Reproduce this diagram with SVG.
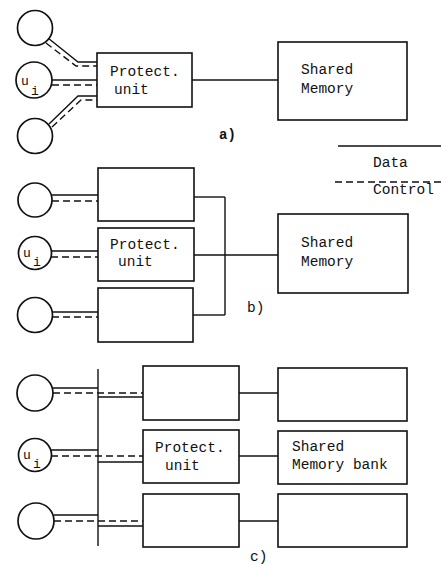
<svg xmlns="http://www.w3.org/2000/svg" width="441" height="565" viewBox="0 0 441 565">
<style>
.bg{fill:#fff}
.n{fill:#fff;stroke:#111;stroke-width:1.6}
.c{fill:#fff;stroke:#111;stroke-width:1.7}
.s{fill:none;stroke:#111;stroke-width:1.4}
.d{fill:none;stroke:#111;stroke-width:1.4;stroke-dasharray:7 4}
.t{font-family:"Liberation Mono",monospace;font-size:14.5px;fill:#111}
.u{font-family:"Liberation Mono",monospace;font-size:13px;fill:#111}
.l{font-family:"Liberation Mono",monospace;font-size:14px;font-weight:bold;fill:#111}
</style>
<rect class="bg" x="0" y="0" width="441" height="565"/>
<g id="connectors">
<polyline class="s" points="48,38 78,62 97,62"/>
<polyline class="d" points="46,43 76,66 97,66"/>
<line class="s" x1="52" y1="80" x2="97" y2="80"/>
<line class="d" x1="52" y1="85" x2="97" y2="85"/>
<polyline class="s" points="49,124 78,96 97,96"/>
<polyline class="d" points="52,127 81,100 97,100"/>
<line class="s" x1="192" y1="80" x2="278" y2="80"/>
<line class="s" x1="338" y1="146" x2="441" y2="146"/>
<line class="d" x1="335" y1="182" x2="441" y2="182"/>
<line class="s" x1="51" y1="195" x2="98" y2="195"/>
<line class="d" x1="52" y1="201" x2="98" y2="201"/>
<line class="s" x1="51" y1="251" x2="98" y2="251"/>
<line class="d" x1="51" y1="257" x2="98" y2="257"/>
<line class="s" x1="52" y1="312" x2="98" y2="312"/>
<line class="d" x1="52" y1="317" x2="98" y2="317"/>
<line class="s" x1="194" y1="197" x2="225" y2="197"/>
<line class="s" x1="194" y1="255" x2="278" y2="255"/>
<line class="s" x1="193" y1="315" x2="225" y2="315"/>
<line class="s" x1="225" y1="197" x2="225" y2="315"/>
<line class="s" x1="98" y1="369" x2="98" y2="546"/>
<line class="s" x1="53" y1="388" x2="98" y2="388"/>
<line class="d" x1="53" y1="393" x2="143" y2="393"/>
<line class="s" x1="98" y1="397" x2="143" y2="397"/>
<line class="s" x1="51" y1="450" x2="98" y2="450"/>
<line class="d" x1="51" y1="456" x2="143" y2="456"/>
<line class="s" x1="98" y1="462" x2="143" y2="462"/>
<line class="s" x1="54" y1="515" x2="98" y2="515"/>
<line class="d" x1="54" y1="521" x2="143" y2="521"/>
<line class="s" x1="98" y1="526" x2="143" y2="526"/>
<line class="s" x1="239" y1="393" x2="278" y2="393"/>
<line class="s" x1="239" y1="456" x2="278" y2="456"/>
<line class="s" x1="239" y1="521" x2="278" y2="521"/>
</g>
<g id="a-user1"><circle class="c" cx="35" cy="28" r="17.5"/></g>
<g id="a-user-i"><circle class="c" cx="34" cy="80" r="18"/><text class="u" x="21" y="85">u</text><text class="u" x="31" y="95">i</text></g>
<g id="a-user3"><circle class="c" cx="35" cy="136" r="17.5"/></g>
<g id="a-protect"><rect class="n" x="97" y="53" width="95" height="54"/><text class="t" x="110" y="76">Protect.</text><text class="t" x="114" y="94">unit</text></g>
<g id="a-memory"><rect class="n" x="278" y="42" width="129" height="78"/><text class="t" x="301" y="74">Shared</text><text class="t" x="301" y="93">Memory</text></g>
<g id="label-a"><text class="l" x="219" y="139">a)</text></g>
<g id="legend"><text class="t" x="373" y="167">Data</text><text class="t" x="373" y="194">Control</text></g>
<g id="b-user1"><circle class="c" cx="35" cy="200" r="17"/></g>
<g id="b-user-i"><circle class="c" cx="35" cy="253" r="16.5"/><text class="u" x="23" y="257">u</text><text class="u" x="33" y="266">i</text></g>
<g id="b-user3"><circle class="c" cx="35" cy="315" r="17.5"/></g>
<g id="b-box1"><rect class="n" x="98" y="168" width="96" height="53"/></g>
<g id="b-protect"><rect class="n" x="98" y="228" width="96" height="53"/><text class="t" x="110" y="249">Protect.</text><text class="t" x="118" y="266">unit</text></g>
<g id="b-box3"><rect class="n" x="98" y="288" width="95" height="54"/></g>
<g id="b-memory"><rect class="n" x="278" y="214" width="130" height="79"/><text class="t" x="301" y="247">Shared</text><text class="t" x="301" y="266">Memory</text></g>
<g id="label-b"><text class="t" x="247" y="312">b)</text></g>
<g id="c-user1"><circle class="c" cx="35" cy="393" r="18"/></g>
<g id="c-user-i"><circle class="c" cx="35" cy="455" r="16.5"/><text class="u" x="23" y="459">u</text><text class="u" x="33" y="468">i</text></g>
<g id="c-user3"><circle class="c" cx="36" cy="521" r="18"/></g>
<g id="c-box1"><rect class="n" x="143" y="366" width="96" height="54"/></g>
<g id="c-protect"><rect class="n" x="143" y="430" width="96" height="53"/><text class="t" x="155" y="452">Protect.</text><text class="t" x="165" y="470">unit</text></g>
<g id="c-box3"><rect class="n" x="143" y="494" width="96" height="53"/></g>
<g id="c-mem1"><rect class="n" x="278" y="368" width="129" height="53"/></g>
<g id="c-memory"><rect class="n" x="278" y="431" width="129" height="53"/><text class="t" x="292" y="451">Shared</text><text class="t" x="292" y="469">Memory bank</text></g>
<g id="c-mem3"><rect class="n" x="278" y="494" width="129" height="53"/></g>
<g id="label-c"><text class="t" x="250" y="561">c)</text></g>
</svg>
